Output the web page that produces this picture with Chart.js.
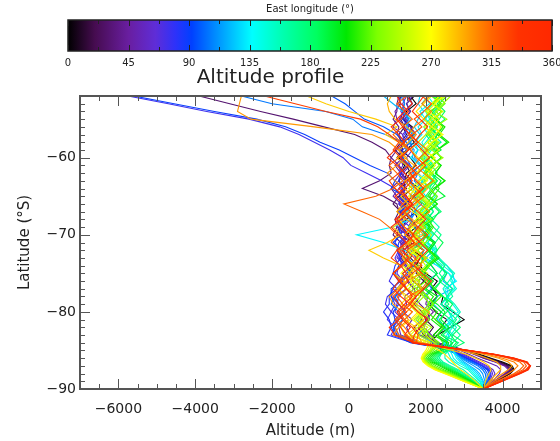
<!DOCTYPE html>
<html>
<head>
<meta charset="utf-8">
<script src="https://cdn.jsdelivr.net/npm/chart.js@4.4.1/dist/chart.umd.min.js"></script>
<style>
  html, body { margin: 0; padding: 0; background: #fff; }
  #wrap { position: relative; width: 560px; height: 441px; }
  #main, #bar { position: absolute; left: 0; top: 0; }
</style>
</head>
<body>
<div id="wrap">
  <canvas id="main" width="560" height="441"></canvas>
  <canvas id="bar" width="560" height="70"></canvas>
</div>
<script>
// latitude of every sample (same for all profiles)
const latitudes = [-90, -89, -88, -87.5, -87, -86.5, -86, -85.5, -85, -84.5, -84,
  -83, -82, -81, -80, -79, -78, -77, -76, -75, -74, -73, -72, -71, -70, -69, -68,
  -67, -66, -65, -64, -63, -62, -61, -60, -59, -58, -57, -56, -55, -54, -53, -52];

const longitudes = [0, 7.5, 15, 22.5, 30, 37.5, 45, 52.5, 60, 67.5, 75, 82.5,
  90, 97.5, 105, 112.5, 120, 127.5, 135, 142.5, 150, 157.5, 165, 172.5,
  180, 187.5, 195, 202.5, 210, 217.5, 225, 232.5, 240, 247.5, 255, 262.5,
  270, 277.5, 285, 292.5, 300, 307.5, 315, 322.5, 330, 337.5, 345, 352.5];

// altitude (m) along each profile, pole first
const alt000 = [3500, 3850, 4200, 4300, 4250, 4000, 3700, 3400, 3000, 2500, 2100,
  2300, 2650, 3000, 2700, 2400, 2450, 2150, 2300, 2000, 1850, 1950, 1650, 1700, 1500, 1750, 1600,
  1400, 1450, 1650, 1850, 1550, 1350, 1450, 1300, 1500, 1700, 1550, 1650, 1400, 1500, 1750, 1600];
const alt007_5 = [3500, 3830, 4180, 4280, 4200, 3950, 3650, 3350, 3000, 2550, 2150,
  2200, 2400, 2550, 2250, 2100, 2300, 2200, 1950, 2000, 1750, 1850, 1950, 1600, 1650, 1550, 1800,
  1700, 1450, 1400, 1650, 1450, 1500, 1750, 1600, 1350, 1400, 1700, 1600, 1450, 1600, 1500, 1700];
const alt015 = [3500, 3820, 4150, 4250, 4150, 3900, 3600, 3300, 3000, 2600, 2200,
  2050, 2200, 2000, 1900, 2100, 1950, 1750, 1950, 1750, 1800, 1600, 1700, 1550, 1550, 1400, 1500,
  1750, 1650, 1300, 1450, 1450, 1600, 1500, 1250, 1400, 1350, 1500, 1400, 1550, 1450, 1650, 1550];
const alt022_5 = [3500, 3810, 4120, 4220, 4120, 3870, 3570, 3300, 3020, 2650, 2250,
  1950, 1800, 2050, 1900, 1700, 1850, 1950, 1650, 1650, 1550, 1400, 1550, 1500, 1250, 1300, 1500,
  1350, 1150, 1300, 1500, 1300, 1350, 1550, 1400, 1200, 1350, 1300, 1450, 1350, 1400, 1300, 1350];
const alt030 = [3500, 3800, 4100, 4200, 4100, 3850, 3550, 3300, 3050, 2700, 2300,
  1850, 1700, 1900, 1800, 1550, 1750, 1700, 1500, 1600, 1500, 1350, 1450, 1350, 1150, 1250, 1200,
  1300, 1250, 900, 350, 800, 1100, 1050, 1100, 950, 600, 150, -650, -1450, -2300, -3100, -3900];
const alt037_5 = [3500, 3790, 4080, 4180, 4080, 3830, 3520, 3270, 3010, 2660, 2280,
  2000, 1900, 2100, 2050, 1850, 1700, 1900, 1800, 1550, 1650, 1450, 1450, 1600, 1350, 1400, 1300,
  1350, 1500, 1250, 1100, 1300, 1450, 1300, 1100, 1250, 1400, 1250, 1300, 1150, 1250, 1250, 1300];
const alt045 = [3500, 3780, 4050, 4150, 4050, 3800, 3500, 3250, 3000, 2650, 2300,
  2150, 1950, 2000, 2200, 2000, 2050, 1850, 1800, 2000, 1700, 1750, 1600, 1400, 1600, 1550, 1650,
  1500, 1300, 1450, 1400, 1550, 1350, 1200, 1400, 1300, 1450, 1400, 1150, 1250, 1200, 1350, 1300];
const alt052_5 = [3500, 3740, 3920, 3950, 3850, 3600, 3350, 3120, 2900, 2520, 2100,
  1600, 1500, 1650, 1400, 1500, 1450, 1700, 1550, 1600, 1450, 1300, 1400, 1400, 1500, 1250, 1350,
  1550, 1350, 1150, 1300, 1450, 1300, 1400, 1350, 1500, 1400, 1550, 1450, 1300, 1450, 1400, 1500];
const alt060 = [3500, 3700, 3800, 3750, 3600, 3400, 3200, 3000, 2800, 2400, 1900,
  1350, 1300, 1400, 1200, 1250, 1300, 1500, 1400, 1550, 1500, 1250, 1350, 1350, 1500, 1400, 1600,
  1500, 1650, 1500, 1350, 1450, 1400, 1600, 1500, 1650, 1600, 1750, 1600, 1450, 1600, 1500, 1650];
const alt067_5 = [3500, 3670, 3740, 3700, 3550, 3350, 3150, 2950, 2750, 2350, 1800,
  1250, 1150, 1300, 1100, 1200, 1100, 1250, 1400, 1250, 1300, 1200, 1300, 1450, 1300, 1350, 1250,
  1400, 1350, 1500, 1400, 1200, 1350, 1300, 1400, 1350, 1450, 1400, 1550, 1500, 1350, 1450, 1400];
const alt075 = [3500, 3650, 3700, 3650, 3500, 3300, 3100, 2900, 2700, 2300, 1700,
  1100, 1200, 1000, 1100, 950, 1000, 1250, 1050, 1150, 1400, 1300, 1350, 1200, 1300, 1600, 1350,
  1450, 1300, 1350, 1200, 850, 450, 50, -150, -500, -900, -1300, -1800, -2600, -3700, -4700, -5750];
const alt082_5 = [3500, 3640, 3680, 3630, 3480, 3280, 3080, 2880, 2650, 2250, 1650,
  1000, 1100, 1050, 900, 1050, 1050, 1150, 1300, 1150, 1200, 1350, 1250, 1300, 1500, 1350, 1400,
  1300, 1450, 1350, 1400, 1300, 1350, 1500, 1350, 1400, 1600, 1450, 1550, 1400, 1450, 1650, 1500];
const alt090 = [3500, 3620, 3650, 3600, 3450, 3250, 3050, 2850, 2600, 2200, 1600,
  1200, 1100, 1200, 1150, 1300, 1100, 1100, 1350, 1200, 1300, 1550, 1400, 1150, 1350, 1300, 1450,
  1350, 1550, 1450, 1100, 1200, 1000, 550, 150, -250, -750, -1150, -1650, -2400, -3500, -4550, -5600];
const alt097_5 = [3500, 3600, 3600, 3540, 3400, 3200, 3000, 2830, 2600, 2250, 1750,
  1250, 1150, 1250, 1450, 1300, 1200, 1350, 1350, 1500, 1700, 1500, 1550, 1850, 1700, 1750, 1600,
  1650, 1900, 1700, 1750, 1600, 1700, 1550, 1400, 1550, 1500, 1250, 900, 400, 150, -100, -450];
const alt105 = [3500, 3580, 3550, 3480, 3350, 3150, 2950, 2800, 2600, 2300, 1900,
  1300, 1200, 1400, 1300, 1100, 1200, 1500, 1350, 1400, 1700, 1550, 1600, 1950, 1750, 1800, 1600,
  1750, 2050, 1800, 1900, 1700, 1800, 1600, 1350, 1500, 1400, 950, 350, 100, -600, -2000, -2800];
const alt112_5 = [3500, 3540, 3480, 3400, 3250, 3080, 2920, 2800, 2650, 2450, 2200,
  1800, 1950, 1750, 1900, 2100, 1950, 2150, 2050, 2300, 2150, 1850, 1950, 1750, 1850, 1700, 1600,
  1750, 1650, 1800, 1700, 1550, 1650, 1850, 1650, 1700, 1550, 1650, 1500, 1550, 1400, 1450, 1350];
const alt120 = [3500, 3500, 3400, 3300, 3150, 3000, 2900, 2800, 2700, 2600, 2500,
  2300, 2500, 2300, 2400, 2200, 2300, 2700, 2450, 2550, 2300, 2000, 2200, 1900, 2000, 1800, 1950,
  1700, 1800, 1600, 1700, 2000, 1800, 1900, 1700, 1800, 1600, 1700, 1500, 1600, 1400, 1150, 900];
const alt127_5 = [3500, 3480, 3350, 3250, 3100, 2950, 2850, 2780, 2720, 2650, 2550,
  2600, 2450, 2700, 2600, 2400, 2600, 2550, 2750, 2700, 2550, 2300, 2100, 2250, 2050, 1850, 1900,
  1750, 1800, 2000, 1850, 1900, 1800, 2050, 1900, 1950, 1750, 1850, 1700, 1800, 1950, 1800, 1850];
const alt135 = [3500, 3450, 3300, 3200, 3050, 2900, 2800, 2750, 2700, 2600, 2500,
  2650, 2500, 2700, 2600, 2400, 2550, 2500, 2800, 2600, 2300, 1900, 1450, 900, 200, 1150, 1600,
  1500, 1800, 1650, 1900, 1800, 2000, 1850, 1600, 1800, 1700, 1900, 1800, 2000, 1850, 2100, 2000];
const alt142_5 = [3500, 3420, 3250, 3150, 3000, 2820, 2720, 2680, 2620, 2550, 2480,
  2550, 2700, 2550, 2850, 2700, 2550, 2750, 2700, 2600, 2350, 2150, 2250, 2000, 2100, 1950, 2100,
  1850, 1950, 1800, 1950, 2150, 1950, 2050, 1850, 2000, 1900, 2050, 1950, 2100, 2000, 2200, 2050];
const alt150 = [3500, 3400, 3200, 3100, 2900, 2750, 2650, 2600, 2550, 2500, 2450,
  2650, 2800, 2600, 2700, 2500, 2600, 2800, 2650, 2700, 2450, 2200, 2300, 2050, 2200, 2000, 2150,
  1900, 2050, 1800, 1950, 2200, 2000, 2150, 1900, 2050, 1800, 2000, 2200, 2000, 2100, 1900, 2050];
const alt157_5 = [3500, 3350, 3100, 2980, 2780, 2600, 2500, 2500, 2600, 2650, 2650,
  2700, 2550, 2750, 2900, 2750, 2550, 2450, 2600, 2750, 2550, 2350, 2200, 2050, 2200, 2350, 2150,
  1950, 2100, 2250, 2100, 1900, 2050, 2200, 2050, 1850, 2000, 2150, 2300, 2150, 2000, 2200, 2350];
const alt165 = [3500, 3300, 3000, 2850, 2650, 2450, 2350, 2400, 2550, 2650, 2700,
  2900, 2700, 2900, 2750, 2500, 2700, 2600, 2350, 2500, 2400, 2100, 2300, 2200, 1900, 2100, 2000,
  2200, 2100, 1800, 2000, 2300, 2100, 2200, 2000, 2150, 2400, 2200, 2300, 2100, 2200, 2500, 2300];
const alt172_5 = [3500, 3280, 2950, 2800, 2600, 2400, 2300, 2380, 2580, 2750, 2850,
  2450, 2650, 2800, 2600, 2400, 2550, 2700, 2500, 2350, 2500, 2300, 2100, 2250, 2400, 2200, 2050,
  2200, 2000, 1850, 2000, 2150, 2300, 2150, 1950, 2100, 2250, 2050, 2200, 2350, 2200, 2400, 2250];
const alt180 = [3500, 3250, 2900, 2750, 2550, 2350, 2250, 2350, 2600, 2800, 3000,
  2700, 2900, 2650, 2400, 2600, 2450, 2200, 2400, 2250, 2000, 2200, 2050, 1800, 2000, 1850, 2100,
  2400, 2200, 2300, 2100, 2200, 2000, 2150, 2400, 2200, 2300, 2100, 2250, 2500, 2250, 2400, 2200];
const alt187_5 = [3500, 3220, 2870, 2700, 2500, 2300, 2200, 2300, 2520, 2700, 2800,
  2650, 2500, 2350, 2550, 2700, 2450, 2250, 2400, 2550, 2350, 2150, 2300, 2450, 2250, 2050, 2200,
  2350, 2150, 2000, 2150, 2300, 2150, 1950, 2100, 2300, 2150, 2000, 2150, 2350, 2500, 2300, 2450];
const alt195 = [3500, 3200, 2850, 2650, 2450, 2250, 2150, 2250, 2450, 2600, 2700,
  2400, 2600, 2400, 2500, 2300, 2000, 2200, 2100, 2300, 2150, 1900, 2100, 1950, 1700, 1900, 2200,
  2000, 2100, 2500, 2250, 2400, 2150, 1900, 2100, 2400, 2200, 2300, 2100, 2250, 2000, 2150, 2400];
const alt202_5 = [3500, 3170, 2800, 2600, 2400, 2200, 2100, 2200, 2400, 2550, 2600,
  2300, 2500, 2250, 2400, 2150, 2300, 2000, 2200, 1950, 2100, 2350, 2100, 2250, 2000, 2150, 1900,
  2050, 2300, 2100, 2250, 2500, 2250, 2400, 2150, 2300, 2550, 2300, 2450, 2250, 2400, 2200, 2300];
const alt210 = [3500, 3150, 2750, 2550, 2350, 2150, 2050, 2150, 2350, 2500, 2550,
  2200, 2400, 2150, 2300, 2050, 2200, 1950, 2100, 1850, 2050, 2300, 2050, 2200, 1950, 2100, 1850,
  2050, 2300, 2050, 2200, 2500, 2250, 2400, 2150, 2300, 2600, 2350, 2500, 2250, 2400, 2200, 2350];
const alt217_5 = [3500, 3120, 2700, 2470, 2270, 2100, 2000, 2100, 2270, 2400, 2450,
  2300, 2450, 2250, 2050, 2200, 2400, 2250, 2050, 1900, 2050, 2250, 2100, 1900, 2050, 2200, 2050,
  1850, 2000, 2200, 2350, 2200, 2000, 2200, 2400, 2250, 2050, 2250, 2450, 2300, 2150, 2350, 2550];
const alt225 = [3500, 3100, 2650, 2400, 2200, 2050, 1950, 2050, 2200, 2300, 2350,
  2100, 1850, 2100, 1950, 2200, 2050, 1750, 2000, 1850, 1550, 1800, 1650, 1900, 1750, 2000, 1850,
  2100, 1950, 1650, 1900, 2200, 1950, 2100, 1850, 2050, 2300, 2050, 2200, 1950, 2100, 2400, 2150];
const alt232_5 = [3500, 3070, 2600, 2350, 2150, 2000, 1950, 2000, 2150, 2250, 2300,
  2100, 1950, 1800, 2000, 2200, 2050, 1850, 1700, 1900, 2100, 1950, 1800, 2000, 2150, 1950, 1800,
  1950, 2150, 2300, 2100, 1950, 2150, 2350, 2200, 2000, 2200, 2400, 2250, 2100, 2300, 2500, 2350];
const alt240 = [3500, 3050, 2570, 2330, 2150, 2020, 1960, 2020, 2150, 2230, 2250,
  1900, 2150, 1850, 2050, 1750, 1950, 1650, 1850, 1550, 1750, 2050, 1750, 1950, 1650, 1850, 2150,
  1850, 2050, 1750, 1950, 2250, 1950, 2150, 2450, 2150, 2350, 2050, 2250, 2550, 2250, 2450, 2650];
const alt247_5 = [3500, 3020, 2540, 2300, 2120, 2000, 1940, 2000, 2120, 2200, 2220,
  2000, 1850, 1700, 1900, 2100, 1950, 1750, 1600, 1800, 2000, 1850, 1650, 1500, 1700, 1900, 1750,
  1950, 2150, 1950, 1800, 2000, 2200, 2050, 1900, 2100, 2300, 2150, 2000, 2250, 2400, 2250, 2350];
const alt255 = [3500, 3000, 2520, 2280, 2100, 1980, 1920, 1980, 2100, 2150, 2150,
  1800, 2050, 1750, 1950, 1650, 1850, 1550, 1750, 2050, 1750, 1450, 1750, 1550, 1850, 1650, 1950,
  1750, 2050, 1850, 1550, 1850, 2150, 1850, 2050, 2350, 2050, 2250, 1950, 2150, 2450, 2150, 2550];
const alt262_5 = [3500, 2990, 2500, 2250, 2070, 1950, 1900, 1950, 2050, 2100, 2100,
  1600, 1800, 1950, 1750, 1550, 1700, 1900, 1800, 1600, 1400, 1550, 1750, 1950, 1700, 1550, 1750,
  1950, 2100, 1900, 1700, 1850, 2050, 2250, 2050, 1850, 2050, 2250, 2400, 2200, 2000, 2150, 2350];
const alt270 = [3500, 2980, 2480, 2230, 2050, 1930, 1880, 1920, 2000, 2050, 2000,
  1700, 1950, 1650, 1850, 1550, 1750, 1450, 1650, 1350, 1550, 1850, 1550, 1750, 1450, 1650, 1950,
  1650, 1850, 1550, 1750, 2050, 1750, 1950, 2250, 1950, 2150, 2450, 2150, 2350, 2050, 2250, 2450];
const alt277_5 = [3500, 3300, 3050, 2900, 2800, 2700, 2600, 2500, 2350, 2150, 1900,
  1450, 1350, 1600, 1800, 1650, 1450, 1300, 1500, 1700, 1550, 1400, 1600, 1800, 1650, 1450, 1300,
  1550, 1750, 1950, 1750, 1550, 1750, 1950, 1800, 1600, 1800, 2000, 2150, 1950, 1750, 1950, 2150];
const alt285 = [3500, 3550, 3650, 3700, 3650, 3500, 3300, 3050, 2700, 2300, 1900,
  1500, 1750, 1450, 1650, 1350, 1550, 1250, 1450, 1150, 1350, 900, 520, 1000, 1350, 1150, 1450,
  1250, 1550, 1350, 1650, 1450, 1750, 1500, 1250, 1550, 1300, 950, 1250, 700, 0, -600, -1100];
const alt292_5 = [3500, 3650, 3850, 3950, 3950, 3850, 3600, 3300, 2900, 2400, 1900,
  1800, 1650, 1950, 2100, 1750, 1600, 1900, 1700, 1550, 1850, 2000, 1700, 1500, 1750, 1950, 1650,
  1400, 1600, 1850, 2050, 1800, 1550, 1700, 1450, 1300, 1550, 1750, 1500, 1200, 1050, 1000, 1100];
const alt300 = [3500, 3700, 4000, 4150, 4250, 4150, 3900, 3500, 3000, 2400, 1800,
  1150, 1300, 1550, 1400, 1150, 1050, 1300, 1500, 1900, 1700, 1450, 1300, 1600, 1950, 1750, 1500,
  1250, 1400, 1650, 1450, 1200, 1000, 1250, 1500, 1300, 1050, 600, -900, -2550, -2900, -2850, -2800];
const alt307_5 = [3500, 3780, 4150, 4300, 4400, 4300, 4000, 3600, 3050, 2420, 1800,
  1600, 1450, 1250, 1500, 1700, 1550, 1900, 2050, 1800, 1600, 1750, 1950, 1700, 1450, 1600, 1850,
  2100, 1850, 1650, 1900, 2200, 1950, 1700, 1850, 2050, 1800, 1550, 1700, 1950, 2150, 1900, 2100];
const alt315 = [3500, 3850, 4300, 4450, 4550, 4450, 4150, 3700, 3100, 2450, 1800,
  1300, 1200, 1450, 1650, 1400, 1250, 1500, 1350, 1150, 1400, 1600, 1350, 1100, 1250, 1050, 800,
  350, -130, 700, 1150, 1400, 1250, 1050, 1300, 1550, 1350, 1150, 1400, 1650, 1450, 1250, 1500];
const alt322_5 = [3500, 3900, 4350, 4530, 4620, 4550, 4230, 3750, 3120, 2420, 1750,
  1800, 1650, 1450, 1300, 1550, 1750, 1500, 1350, 1650, 1900, 1700, 1500, 1800, 2050, 1800, 1600,
  1450, 1700, 1950, 1750, 1550, 1800, 2000, 1750, 1600, 1400, 1650, 1900, 1700, 1950, 2150, 1900];
const alt330 = [3500, 3950, 4400, 4600, 4700, 4650, 4300, 3800, 3150, 2400, 1700,
  1500, 1350, 1200, 1400, 1600, 1350, 1150, 1300, 1500, 1350, 1100, 1250, 1500, 1700, 1450, 1250,
  1400, 1650, 1450, 1200, 1050, 1300, 1550, 1350, 1150, 1300, 1050, 750, 300, -600, -1400, -2200];
const alt337_5 = [3500, 3970, 4430, 4630, 4710, 4620, 4280, 3780, 3130, 2380, 1680,
  1200, 1050, 1300, 1500, 1300, 1150, 1350, 1550, 1400, 1650, 1450, 1250, 1500, 1300, 1100, 1350,
  1600, 1400, 1200, 1450, 1650, 1450, 1250, 1000, 1200, 1450, 1300, 1100, 1350, 1550, 1350, 1250];
const alt345 = [3500, 3980, 4450, 4650, 4720, 4600, 4250, 3750, 3100, 2350, 1650,
  1700, 1850, 2050, 1800, 1600, 1750, 1950, 2150, 1900, 1700, 1850, 2050, 1850, 1650, 1800, 2000,
  1800, 1550, 1700, 1950, 1750, 1600, 1850, 2100, 1900, 1700, 1850, 2050, 1850, 1650, 1800, 1950];
const alt352_5 = [3500, 3990, 4470, 4670, 4730, 4620, 4270, 3760, 3110, 2360, 1660,
  1450, 1600, 1400, 1250, 1450, 1650, 1500, 1300, 1150, 1350, 1550, 1400, 1700, 1550, 1350, 1200,
  1450, 1650, 1500, 1300, 1500, 1750, 1550, 1350, 1550, 1800, 1600, 1400, 1250, 1450, 1650, 1500];

const profiles = [alt000, alt007_5, alt015, alt022_5, alt030, alt037_5, alt045, alt052_5,
  alt060, alt067_5, alt075, alt082_5, alt090, alt097_5, alt105, alt112_5,
  alt120, alt127_5, alt135, alt142_5, alt150, alt157_5, alt165, alt172_5,
  alt180, alt187_5, alt195, alt202_5, alt210, alt217_5, alt225, alt232_5,
  alt240, alt247_5, alt255, alt262_5, alt270, alt277_5, alt285, alt292_5,
  alt300, alt307_5, alt315, alt322_5, alt330, alt337_5, alt345, alt352_5];

const xTickValues = [-6000, -4000, -2000, 0, 2000, 4000];
const yTickValues = [-90, -80, -70, -60];
const barTickValues = [0, 45, 90, 135, 180, 225, 270, 315, 360];

// rainbow colour table (longitude -> rgb)
const colormapStops = [
  [0, [0, 0, 0]], [20, [70, 12, 80]], [45, [105, 30, 160]], [65, [95, 45, 215]],
  [80, [45, 50, 250]], [92, [0, 64, 255]], [112, [0, 150, 255]], [137, [0, 255, 255]],
  [160, [0, 255, 175]], [185, [0, 255, 95]], [207, [0, 232, 0]], [230, [125, 255, 0]],
  [255, [205, 255, 0]], [270, [255, 255, 0]], [292, [255, 180, 0]], [315, [255, 100, 0]],
  [335, [255, 50, 0]], [360, [255, 40, 0]]
];

function colorAt(v) {
  for (let i = 1; i < colormapStops.length; i++) {
    const [v1, c1] = colormapStops[i];
    const [v0, c0] = colormapStops[i - 1];
    if (v <= v1) {
      const t = (v - v0) / (v1 - v0);
      const c = c0.map((a, k) => Math.round(a + (c1[k] - a) * t));
      return `rgb(${c[0]},${c[1]},${c[2]})`;
    }
  }
  return 'rgb(255,40,0)';
}

const FONT = 'DejaVu Sans';
const INK = '#222';

// box frame with inward ticks on all four sides (IDL style)
const frameTicks = {
  id: 'frameTicks',
  afterDraw(chart) {
    const { ctx, chartArea: a, scales: { x, y } } = chart;
    ctx.save();
    ctx.strokeStyle = '#555';
    ctx.lineWidth = 1;
    ctx.beginPath();
    for (let v = -7000; v <= 5000; v += 500) {
      const px = Math.round(x.getPixelForValue(v)) + 0.5;
      const len = xTickValues.includes(v) ? 10 : 5;
      ctx.moveTo(px, a.bottom); ctx.lineTo(px, a.bottom - len);
      ctx.moveTo(px, a.top); ctx.lineTo(px, a.top + len);
    }
    for (let v = -90; v <= -52; v += 1) {
      const py = Math.round(y.getPixelForValue(v)) + 0.5;
      const len = yTickValues.includes(v) ? 10 : 5;
      ctx.moveTo(a.left, py); ctx.lineTo(a.left + len, py);
      ctx.moveTo(a.right, py); ctx.lineTo(a.right - len, py);
    }
    ctx.stroke();
    ctx.lineWidth = 2;
    ctx.strokeRect(a.left, a.top, a.right - a.left, a.bottom - a.top);
    ctx.restore();
  }
};

const datasets = longitudes.map((lon, i) => ({
  label: lon + '°',
  data: latitudes.map((lat, j) => ({ x: profiles[i][j], y: lat })),
  showLine: true,
  borderColor: colorAt(lon),
  borderWidth: 1.1,
  pointRadius: 0,
  tension: 0,
  order: -lon
}));

new Chart(document.getElementById('main'), {
  type: 'scatter',
  data: { datasets },
  options: {
    responsive: false,
    animation: false,
    layout: { padding: { top: 66, right: 19, left: 0, bottom: 0 } },
    plugins: {
      legend: { display: false },
      tooltip: { enabled: false },
      title: {
        display: true,
        text: 'Altitude profile',
        color: INK,
        font: { family: FONT, size: 20, weight: 'normal' },
        padding: { top: 0, bottom: 6 }
      }
    },
    scales: {
      x: {
        type: 'linear', min: -7000, max: 5000,
        grid: { display: false, drawTicks: false },
        border: { display: false },
        afterBuildTicks: s => { s.ticks = xTickValues.map(v => ({ value: v })); },
        afterFit: s => { s.height = 52; s.paddingLeft = 0; s.paddingRight = 0; },
        ticks: { color: INK, font: { family: FONT, size: 14 }, padding: 12, maxRotation: 0,
          callback: v => String(v).replace('-', '\u2212') },
        title: { display: true, text: 'Altitude (m)', color: INK,
          font: { family: FONT, size: 15 }, padding: { top: 0, bottom: 1 } }
      },
      y: {
        type: 'linear', min: -90, max: -52,
        grid: { display: false, drawTicks: false },
        border: { display: false },
        afterBuildTicks: s => { s.ticks = yTickValues.map(v => ({ value: v })); },
        afterFit: s => { s.width = 80; s.paddingTop = 0; s.paddingBottom = 0; },
        ticks: { color: INK, font: { family: FONT, size: 14 }, padding: 4,
          callback: v => String(v).replace('-', '\u2212') },
        title: { display: true, text: 'Latitude (°S)', color: INK,
          font: { family: FONT, size: 15 }, padding: { top: 16, bottom: 0 } }
      }
    }
  },
  plugins: [frameTicks]
});

// colour bar: gradient drawn into the chart area of a 0-360 linear axis
const colorBar = {
  id: 'colorBar',
  beforeDatasetsDraw(chart) {
    const { ctx, chartArea: a, scales: { x } } = chart;
    const x0 = x.getPixelForValue(0), x1 = x.getPixelForValue(360);
    const g = ctx.createLinearGradient(x0, 0, x1, 0);
    colormapStops.forEach(([v]) => g.addColorStop(v / 360, colorAt(v)));
    ctx.save();
    ctx.fillStyle = g;
    ctx.fillRect(x0, a.top, x1 - x0, a.bottom - a.top);
    ctx.strokeStyle = '#222';
    ctx.lineWidth = 1;
    ctx.beginPath();
    for (let v = 0; v <= 360; v += 22.5) {
      const px = Math.round(x.getPixelForValue(v)) + 0.5;
      const len = barTickValues.includes(v) ? 6 : 4;
      ctx.moveTo(px, a.top); ctx.lineTo(px, a.top + len);
      ctx.moveTo(px, a.bottom); ctx.lineTo(px, a.bottom - len);
    }
    ctx.stroke();
    ctx.lineWidth = 1.5;
    ctx.strokeRect(x0, a.top, x1 - x0, a.bottom - a.top);
    ctx.restore();
  }
};

new Chart(document.getElementById('bar'), {
  type: 'scatter',
  data: { datasets: [] },
  options: {
    responsive: false,
    animation: false,
    layout: { padding: { top: 0, left: 68, right: 8, bottom: 0 } },
    plugins: {
      legend: { display: false },
      tooltip: { enabled: false },
      title: {
        display: true,
        text: 'East longitude (°)',
        color: INK,
        font: { family: FONT, size: 10, weight: 'normal' },
        padding: { top: 3, bottom: 5 }
      }
    },
    scales: {
      x: {
        type: 'linear', min: 0, max: 360,
        grid: { display: false, drawTicks: false },
        border: { display: false },
        afterBuildTicks: s => { s.ticks = barTickValues.map(v => ({ value: v })); },
        afterFit: s => { s.height = 19; s.paddingLeft = 0; s.paddingRight = 0; },
        ticks: { color: INK, font: { family: FONT, size: 10 }, padding: 6, maxRotation: 0 }
      },
      y: { display: false, min: 0, max: 1 }
    }
  },
  plugins: [colorBar]
});
</script>
</body>
</html>
